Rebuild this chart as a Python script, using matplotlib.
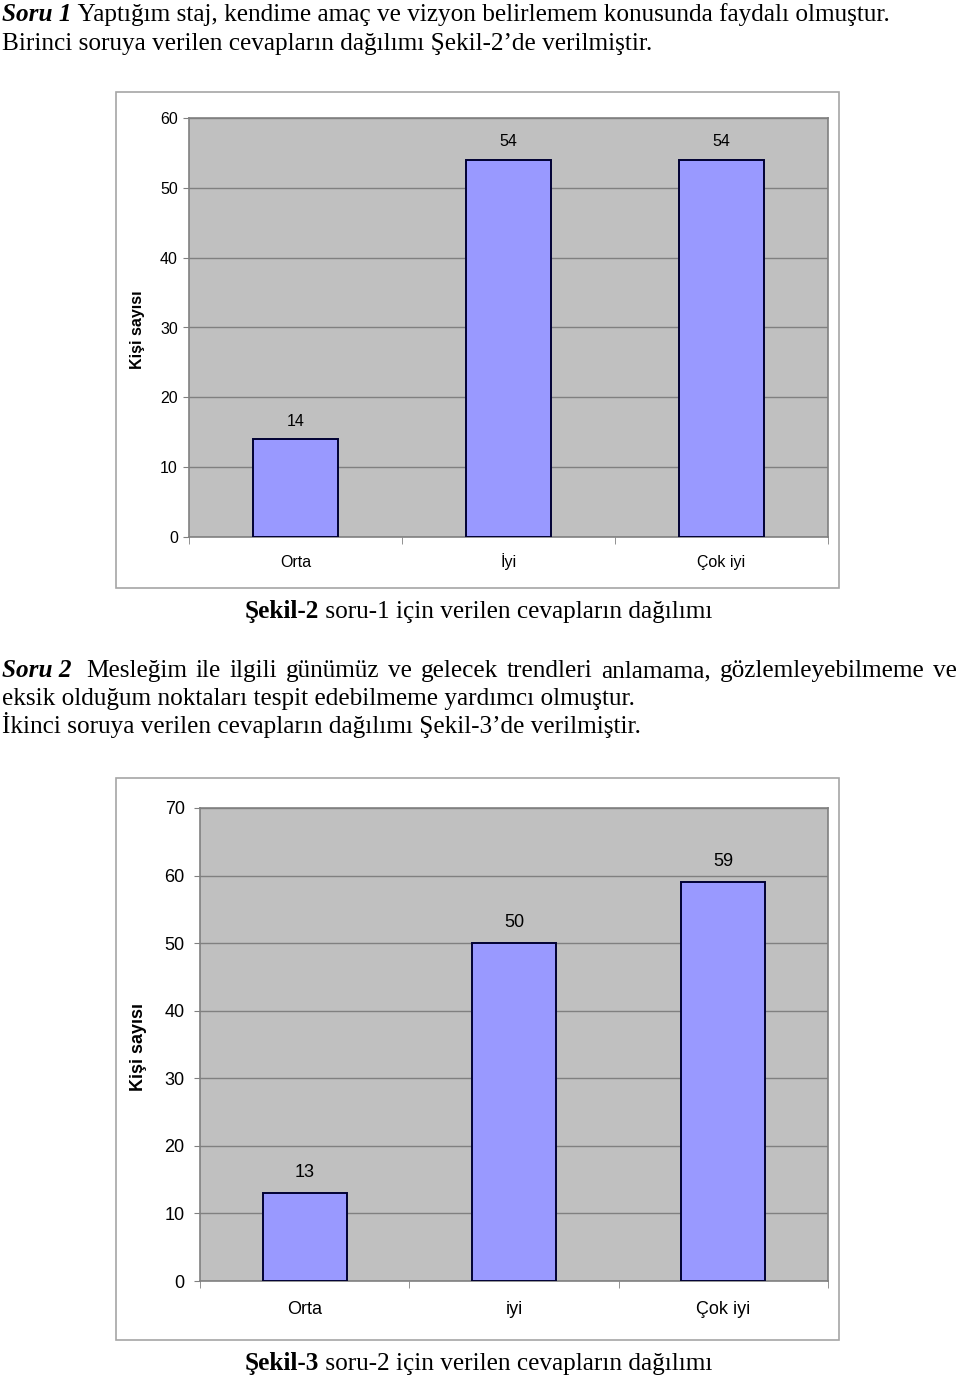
import matplotlib
matplotlib.use("Agg")
import matplotlib.pyplot as plt
from matplotlib.patches import Rectangle

# chart data
cats1 = ["Orta", "İyi", "Çok iyi"]
vals1 = [14, 54, 54]
cats2 = ["Orta", "iyi", "Çok iyi"]
vals2 = [13, 50, 59]
ylabel = "Kişi sayısı"

W, H = 960, 1378
fig = plt.figure(figsize=(W / 100, H / 100), dpi=100)
renderer = fig.canvas.get_renderer()

SERIF = "Liberation Serif"
SANS = "Liberation Sans"
BODY = 18.2


def fx(x):
    return x / W


def fy(y):
    return 1 - y / H


def runs_text(x, y, runs, size=BODY, justify_to=None, first_extra=0):
    # runs: list of (text, weight, style), placed on one baseline
    pieces = []
    if justify_to is None:
        pieces = runs
    else:
        for txt, wt, st in runs:
            if st == "italic":
                pieces.append((txt, wt, st))
                continue
            for w in txt.split():
                pieces.append((w, wt, st))
    arts = []
    widths = []
    for txt, wt, st in pieces:
        t = fig.text(fx(x), fy(y), txt, fontsize=size, family=SERIF,
                     weight=wt, style=st, va="baseline", ha="left")
        arts.append(t)
        widths.append(t.get_window_extent(renderer).width)
    gap = 0
    if justify_to is not None and len(pieces) > 1:
        gap = (justify_to - x - sum(widths) - first_extra) / (len(pieces) - 1)
    cur = x
    for i, (t, w) in enumerate(zip(arts, widths)):
        t.set_x(fx(cur))
        cur += w + gap
        if i == 0 and justify_to is not None:
            cur += first_extra


def bar_chart(box, area, cats, vals, ymax, fs, lab_off, ypad, xpad, ylab_pos):
    # outer chart border
    x0, y0, x1, y1 = box
    fig.add_artist(Rectangle((fx(x0), fy(y1)), fx(x1 - x0), (y1 - y0) / H,
                             transform=fig.transFigure, fill=False,
                             edgecolor="#a6a6a6", linewidth=1.2))
    l, t, r, b = area
    ax = fig.add_axes([fx(l), fy(b), fx(r - l), (b - t) / H])
    ax.set_facecolor("#c0c0c0")
    ax.bar(range(len(cats)), vals, width=0.4, color="#9999ff",
           edgecolor="#000033", linewidth=1.4, zorder=3)
    ax.set_xlim(-0.5, len(cats) - 0.5)
    ax.set_ylim(0, ymax)
    ax.set_yticks(range(0, ymax + 1, 10))
    ax.yaxis.grid(True, color="#808080", linewidth=1.0, zorder=0)
    ax.set_xticks(range(len(cats)))
    ax.set_xticklabels(cats, fontsize=fs, family=SANS, va="baseline")
    ax.set_xticks([i - 0.5 for i in range(len(cats) + 1)], minor=True)
    ax.tick_params(axis="x", which="major", length=0, pad=xpad)
    ax.tick_params(axis="x", which="minor", length=5, color="#808080")
    ax.tick_params(axis="y", length=4, color="#808080", pad=ypad, labelsize=fs)
    for lab in ax.get_yticklabels():
        lab.set_family(SANS)
    for s in ax.spines.values():
        s.set_color("#808080")
        s.set_linewidth(1.2)
    for i, v in enumerate(vals):
        ax.annotate(str(v), (i, v), xytext=(0, lab_off), textcoords="offset points",
                    ha="center", va="center", fontsize=fs, family=SANS)
    ax.set_ylabel(ylabel, fontsize=fs, family=SANS, weight="bold")
    ax.yaxis.set_label_coords(*ylab_pos)
    return ax


# body text
runs_text(2, 21, [("Soru 1", "bold", "italic"),
                  (" Yaptığım staj, kendime amaç ve vizyon belirlemem konusunda faydalı olmuştur.", "normal", "normal")])
runs_text(2, 50, [("Birinci soruya verilen cevapların dağılımı Şekil-2’de verilmiştir.", "normal", "normal")])

bar_chart((116, 92, 839, 588), (189, 118, 828, 537), cats1, vals1, 60,
          11.5, 13, 4, 21.6, (-0.069, 0.494))

runs_text(245, 618, [("Şekil-2", "bold", "normal"),
                     (" soru-1 için verilen cevapların dağılımı", "normal", "normal")])

runs_text(2, 677, [("Soru 2", "bold", "italic"),
                   ("Mesleğim ile ilgili günümüz ve gelecek trendleri anlamama, gözlemleyebilmeme ve", "normal", "normal")],
          justify_to=957, first_extra=6)
runs_text(2, 705, [("eksik olduğum noktaları tespit edebilmeme yardımcı olmuştur.", "normal", "normal")])
runs_text(2, 733, [("İkinci soruya verilen cevapların dağılımı Şekil-3’de verilmiştir.", "normal", "normal")])

bar_chart((116, 778, 839, 1340), (200, 808, 828, 1281), cats2, vals2, 70,
          13, 15, 7, 24, (-0.084, 0.495))

runs_text(245, 1370, [("Şekil-3", "bold", "normal"),
                      (" soru-2 için verilen cevapların dağılımı", "normal", "normal")])

fig.savefig("out.png", dpi=100)
